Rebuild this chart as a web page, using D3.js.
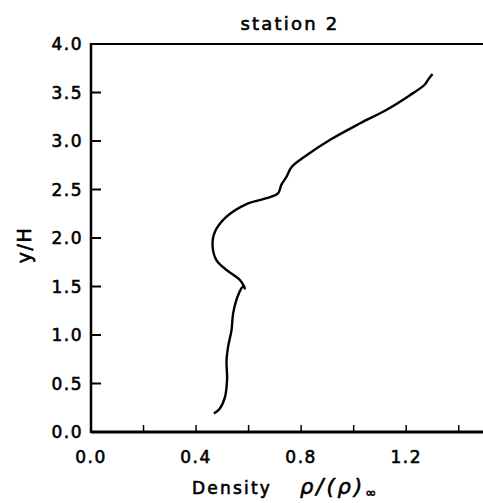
<!DOCTYPE html>
<html>
  <head>
    <meta charset="utf-8">
    <script src="https://d3js.org/d3.v7.min.js"></script>
    <style>
      body { margin: 0px; background: #fff; }
      svg text {
        font-family: "DejaVu Sans", sans-serif;
        fill: #000;
        stroke: #000;
        stroke-width: 0.6px;
        letter-spacing: 1.5px;
      }
    </style>
  </head>
  <body>
    <svg width="483" height="503"></svg>
    <script>
      // profile: density ratio vs y/H
      const density = [0.468, 0.49, 0.51, 0.518, 0.516, 0.522, 0.535, 0.541, 0.56, 0.579, 0.586,
        0.567, 0.516, 0.478, 0.463, 0.471, 0.516, 0.592, 0.668, 0.712, 0.725, 0.744, 0.763,
        0.814, 0.909, 1.023, 1.124, 1.213, 1.27, 1.283, 1.30];
      const height = [0.19, 0.24, 0.36, 0.54, 0.74, 0.88, 1.05, 1.22, 1.41, 1.50, 1.48,
        1.567, 1.67, 1.77, 1.91, 2.06, 2.22, 2.35, 2.41, 2.46, 2.55, 2.63, 2.73,
        2.84, 3.01, 3.18, 3.32, 3.47, 3.58, 3.63, 3.69];
      const xTicks = [0.2, 0.4, 0.6, 0.8, 1.0, 1.2, 1.4];
      const xLabels = [0.0, 0.4, 0.8, 1.2];
      const yTicks = [0.5, 1.0, 1.5, 2.0, 2.5, 3.0, 3.5];
      const yLabels = [0.0, 0.5, 1.0, 1.5, 2.0, 2.5, 3.0, 3.5, 4.0];

      const data = density.map((d, i) => ({ x: d, y: height[i] }));

      const svg = d3.select('svg');
      const pLeft = 91, pRight = 485, pTop = 44, pBottom = 432;

      const xScale = d3.scaleLinear().domain([0, 1.5]).range([pLeft, pRight]);
      const yScale = d3.scaleLinear().domain([0, 4]).range([pBottom, pTop]);

      // frame: left, bottom, top (right side runs off the page)
      svg.append('line')
        .attr('x1', pLeft).attr('x2', pLeft).attr('y1', pTop - 1).attr('y2', pBottom + 1)
        .attr('stroke', '#000').attr('stroke-width', 2.5);
      svg.append('line')
        .attr('x1', pLeft).attr('x2', 483).attr('y1', pBottom).attr('y2', pBottom)
        .attr('stroke', '#000').attr('stroke-width', 3);
      svg.append('line')
        .attr('x1', pLeft).attr('x2', 483).attr('y1', pTop).attr('y2', pTop)
        .attr('stroke', '#000').attr('stroke-width', 2);

      // ticks
      svg.selectAll('.xt').data(xTicks).enter().append('line')
        .attr('x1', d => xScale(d)).attr('x2', d => xScale(d))
        .attr('y1', pBottom).attr('y2', pBottom - 7)
        .attr('stroke', '#000').attr('stroke-width', 1.5);
      svg.selectAll('.yt').data(yTicks).enter().append('line')
        .attr('x1', pLeft).attr('x2', pLeft + 10)
        .attr('y1', d => yScale(d)).attr('y2', d => yScale(d))
        .attr('stroke', '#000').attr('stroke-width', 2);

      // tick labels
      svg.selectAll('.xl').data(xLabels).enter().append('text')
        .attr('x', d => xScale(d)).attr('y', 463)
        .attr('text-anchor', 'middle')
        .style('font-size', '17px')
        .text(d => d.toFixed(1));
      svg.selectAll('.yl').data(yLabels).enter().append('text')
        .attr('x', 83).attr('y', d => yScale(d) + 6)
        .attr('text-anchor', 'end')
        .style('font-size', '17px')
        .text(d => d.toFixed(1));

      // curve
      svg.append('path')
        .datum(data)
        .attr('fill', 'none')
        .attr('stroke', '#000')
        .attr('stroke-width', 2.4)
        .attr('stroke-linejoin', 'round')
        .attr('d', d3.line().x(d => xScale(d.x)).y(d => yScale(d.y)).curve(d3.curveCatmullRom));

      // titles
      svg.append('text')
        .attr('x', 290).attr('y', 30)
        .attr('text-anchor', 'middle')
        .style('font-size', '18px').style('letter-spacing', '2.2px')
        .text('station  2');
      svg.append('text')
        .attr('transform', 'translate(31,245) rotate(-90)')
        .attr('text-anchor', 'middle')
        .style('font-size', '19px')
        .text('y/H');
      const xl = svg.append('text')
        .attr('x', 192).attr('y', 494)
        .style('font-size', '17px').style('letter-spacing', '2.2px');
      xl.append('tspan').text('Density');
      xl.append('tspan').attr('x', 300).style('font-style', 'italic').style('font-size', '21px')
        .style('letter-spacing', '3px').text('ρ/(ρ)');
      xl.append('tspan').attr('dy', 3).style('font-size', '13px').text('∞');
    </script>
  </body>
</html>
